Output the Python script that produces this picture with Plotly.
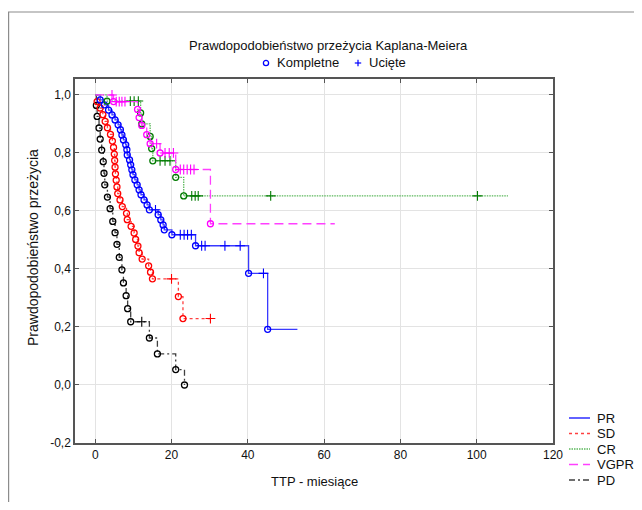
import plotly.graph_objects as go

# ---------------- data ----------------
x_ticks = [0, 20, 40, 60, 80, 100, 120]
y_ticks = [-0.2, 0.0, 0.2, 0.4, 0.6, 0.8, 1.0]
y_tick_labels = ["-0,2", "0,0", "0,2", "0,4", "0,6", "0,8", "1,0"]

series_names = ["PR", "SD", "CR", "VGPR", "PD"]

# PR
pr_event_t = [1.3, 2.4, 3.5, 4.4, 5.2, 6.0, 6.6, 7.0, 7.4, 8.0, 8.3, 8.4, 9.0, 9.3, 9.6, 9.9, 10.4,
              11.0, 11.5, 12.0, 12.8, 13.6, 14.2, 16.5, 17.2, 17.8, 18.1, 20.1, 26.3, 40.2, 45.2]
pr_event_s = [0.983, 0.966, 0.948, 0.931, 0.914, 0.897, 0.880, 0.862, 0.845, 0.828, 0.811, 0.793,
              0.776, 0.759, 0.742, 0.725, 0.707, 0.690, 0.673, 0.656, 0.638, 0.621, 0.604, 0.587,
              0.569, 0.552, 0.535, 0.518, 0.480, 0.385, 0.192]
pr_cens_t = [15.8, 22.3, 23.3, 24.2, 25.2, 27.9, 28.8, 34.0, 38.0, 44.1]
pr_cens_s = [0.604, 0.518, 0.518, 0.518, 0.518, 0.480, 0.480, 0.480, 0.480, 0.385]
pr_end_t = 53.0

# SD
sd_event_t = [0.5, 1.3, 2.0, 2.6, 3.2, 4.0, 4.5, 4.8, 5.0, 5.1, 5.2, 5.3, 5.5, 5.7, 5.9, 6.5, 7.1,
              8.2, 8.4, 9.4, 10.2, 10.6, 11.2, 11.5, 12.3, 14.0, 14.5, 15.0, 21.8, 23.0]
sd_event_s = [0.977, 0.955, 0.932, 0.909, 0.887, 0.864, 0.841, 0.819, 0.796, 0.774, 0.751, 0.728,
              0.706, 0.683, 0.660, 0.638, 0.615, 0.592, 0.570, 0.547, 0.524, 0.502, 0.479, 0.456,
              0.434, 0.411, 0.389, 0.366, 0.305, 0.229]
sd_cens_t = [20.0, 30.2]
sd_cens_s = [0.366, 0.229]
sd_end_t = 30.2

# CR
cr_event_t = [3.1, 11.9, 12.2, 14.4, 14.8, 15.1, 21.1, 23.2]
cr_event_s = [0.979, 0.938, 0.900, 0.857, 0.815, 0.773, 0.716, 0.652]
cr_cens_t = [9.2, 10.2, 11.3, 17.0, 18.3, 19.6, 25.3, 26.2, 27.0, 46.0, 100.2]
cr_cens_s = [0.979, 0.979, 0.979, 0.773, 0.773, 0.773, 0.652, 0.652, 0.652, 0.652, 0.652]
cr_end_t = 108.2

# VGPR
vg_event_t = [4.8, 11.1, 11.5, 12.2, 13.5, 14.4, 17.0, 21.1, 30.2]
vg_event_s = [0.977, 0.950, 0.922, 0.895, 0.863, 0.832, 0.800, 0.743, 0.556]
vg_cens_t = [4.4, 5.5, 6.3, 7.0, 7.8, 16.1, 18.3, 19.4, 20.5, 22.3, 23.2, 24.1, 25.0, 25.9]
vg_cens_s = [1.0, 0.977, 0.977, 0.977, 0.977, 0.832, 0.800, 0.800, 0.800, 0.743, 0.743, 0.743,
             0.743, 0.743]
vg_end_t = 62.8

# PD
pd_event_t = [0.3, 0.5, 1.0, 1.3, 1.7, 2.1, 2.3, 2.5, 3.2, 3.9, 4.6, 5.2, 5.7, 6.3, 7.0, 7.4, 8.1,
              8.5, 9.3, 14.2, 16.3, 21.1, 23.4]
pd_event_s = [0.964, 0.926, 0.886, 0.848, 0.810, 0.770, 0.730, 0.690, 0.648, 0.608, 0.564, 0.525,
              0.485, 0.440, 0.397, 0.352, 0.308, 0.263, 0.218, 0.162, 0.107, 0.053, 0.0]
pd_cens_t = [12.2]
pd_cens_s = [0.218]
pd_end_t = 23.4

title_text = "Prawdopodobieństwo przeżycia Kaplana-Meiera"
marker_legend = ["Kompletne", "Ucięte"]
x_title = "TTP - miesiące"
y_title = "Prawdopodobieństwo przeżycia"

# ---------------- styles ----------------
line_colors = {"PR": "#3a3aff", "SD": "#ff4040", "CR": "#5cb85c", "VGPR": "#ff40ff", "PD": "#404040"}
mark_colors = {"PR": "#0000ff", "SD": "#ff0000", "CR": "#007a00", "VGPR": "#ff00ff", "PD": "#000000"}
dashes = {"PR": "solid", "SD": "3px,3px", "CR": "1.5px,1px", "VGPR": "9px,5px", "PD": "6px,3px,2px,3px"}

data = {
    "PR": (pr_event_t, pr_event_s, pr_cens_t, pr_cens_s, pr_end_t),
    "SD": (sd_event_t, sd_event_s, sd_cens_t, sd_cens_s, sd_end_t),
    "CR": (cr_event_t, cr_event_s, cr_cens_t, cr_cens_s, cr_end_t),
    "VGPR": (vg_event_t, vg_event_s, vg_cens_t, vg_cens_s, vg_end_t),
    "PD": (pd_event_t, pd_event_s, pd_cens_t, pd_cens_s, pd_end_t),
}

FONT = "Liberation Sans, Arial, sans-serif"
# the page body has an 8px margin: work in screen pixels and shift
OFF = 8
W, H = 642 - OFF, 510 - 2 * OFF
PL, PR_, PT, PB = 75, 553, 79, 443          # plot box in screen pixels
ML, MT = PL - OFF, PT - OFF
MR = W - (PR_ - OFF)
MB = H - (PB - OFF)
PW, PH = PR_ - PL, PB - PT


def px2x(px):
    return (px - PL) / PW


def px2y(py):
    return (PB - py) / PH


fig = go.Figure()

for name in ["PD", "SD", "PR", "CR", "VGPR"]:
    et, es, ct, cs, end_t = data[name]
    pts = sorted([(t, s) for t, s in zip(et, es)] + [(t, s) for t, s in zip(ct, cs)],
                 key=lambda p: (p[0], -p[1]))
    lx = [0.0] + [p[0] for p in pts]
    ly = [1.0] + [p[1] for p in pts]
    if end_t > lx[-1]:
        lx.append(end_t)
        ly.append(ly[-1])
    fig.add_trace(go.Scatter(x=lx, y=ly, mode="lines", line_shape="hv",
                             line=dict(color=line_colors[name], width=1.3, dash=dashes[name]),
                             showlegend=False, hoverinfo="skip"))
    fig.add_trace(go.Scatter(x=ct, y=cs, mode="markers",
                             marker=dict(symbol="cross-thin", size=7, color=mark_colors[name],
                                         line=dict(color=mark_colors[name], width=1.1)),
                             showlegend=False, hoverinfo="skip"))
    fig.add_trace(go.Scatter(x=et, y=es, mode="markers",
                             marker=dict(symbol="circle-open", size=6, color=mark_colors[name],
                                         line=dict(color=mark_colors[name], width=1.3)),
                             showlegend=False, hoverinfo="skip"))

shapes = []
annotations = []

# outer frame
shapes.append(dict(type="rect", xref="paper", yref="paper",
                   x0=px2x(8.6), x1=px2x(700), y0=px2y(560), y1=px2y(12),
                   line=dict(color="#8c8c8c", width=1.2)))

txt = dict(family=FONT, size=13, color="#111")

# title and marker legend
annotations.append(dict(text=title_text, x=px2x(328), y=px2y(45), xref="paper", yref="paper",
                        showarrow=False, font=txt, xanchor="center", yanchor="middle"))
cx, cy = 266, 63
shapes.append(dict(type="circle", xref="paper", yref="paper",
                   x0=px2x(cx - 2.6), x1=px2x(cx + 2.6), y0=px2y(cy + 2.6), y1=px2y(cy - 2.6),
                   line=dict(color="#0000ff", width=1.3)))
annotations.append(dict(text=marker_legend[0], x=px2x(275), y=px2y(63), xref="paper", yref="paper",
                        showarrow=False, font=txt, xanchor="left", yanchor="middle"))
qx, qy = 358, 63
shapes.append(dict(type="line", xref="paper", yref="paper",
                   x0=px2x(qx - 3.2), x1=px2x(qx + 3.2), y0=px2y(qy), y1=px2y(qy),
                   line=dict(color="#0000ff", width=1.2)))
shapes.append(dict(type="line", xref="paper", yref="paper",
                   x0=px2x(qx), x1=px2x(qx), y0=px2y(qy - 3.2), y1=px2y(qy + 3.2),
                   line=dict(color="#0000ff", width=1.2)))
annotations.append(dict(text=marker_legend[1], x=px2x(367), y=px2y(63), xref="paper", yref="paper",
                        showarrow=False, font=txt, xanchor="left", yanchor="middle"))

# series legend (bottom right)
rows_y = [418, 433.5, 449, 464.5, 480]
for name, ry in zip(series_names, rows_y):
    shapes.append(dict(type="line", xref="paper", yref="paper",
                       x0=px2x(569), x1=px2x(590), y0=px2y(ry), y1=px2y(ry),
                       line=dict(color=line_colors[name], width=1.6, dash=dashes[name])))
    annotations.append(dict(text=name, x=px2x(595), y=px2y(ry), xref="paper", yref="paper",
                            showarrow=False, font=txt, xanchor="left", yanchor="middle"))

# axis titles
annotations.append(dict(text=y_title, x=px2x(33), y=px2y(248), xref="paper", yref="paper",
                        showarrow=False, textangle=-90,
                        font=dict(family=FONT, size=14, color="#111"),
                        xanchor="center", yanchor="middle"))
annotations.append(dict(text=x_title, x=px2x(314), y=px2y(481), xref="paper", yref="paper",
                        showarrow=False, font=txt, xanchor="center", yanchor="middle"))

fig.update_layout(
    width=W, height=H,
    margin=dict(l=ML, r=MR, t=MT, b=MB, pad=0),
    paper_bgcolor="white", plot_bgcolor="white",
    shapes=shapes, annotations=annotations,
    font=dict(family=FONT, size=12, color="#111"),
    showlegend=False,
)
fig.update_xaxes(range=[-5.3, 120], tickvals=x_ticks, ticktext=[str(v) for v in x_ticks],
                 showgrid=True, gridcolor="#e3e3e3", gridwidth=1, zeroline=False,
                 showline=True, linecolor="#555", linewidth=1.5, mirror="ticks",
                 ticks="inside", ticklen=4, tickcolor="#555",
                 tickfont=dict(family=FONT, size=12, color="#111"))
fig.update_yaxes(range=[-0.2, 1.055], tickvals=y_ticks, ticktext=y_tick_labels,
                 showgrid=True, gridcolor="#e3e3e3", gridwidth=1, zeroline=False,
                 showline=True, linecolor="#555", linewidth=1.5, mirror="ticks",
                 ticks="inside", ticklen=4, tickcolor="#555",
                 tickfont=dict(family=FONT, size=12, color="#111"))

fig.write_html("out.html")
